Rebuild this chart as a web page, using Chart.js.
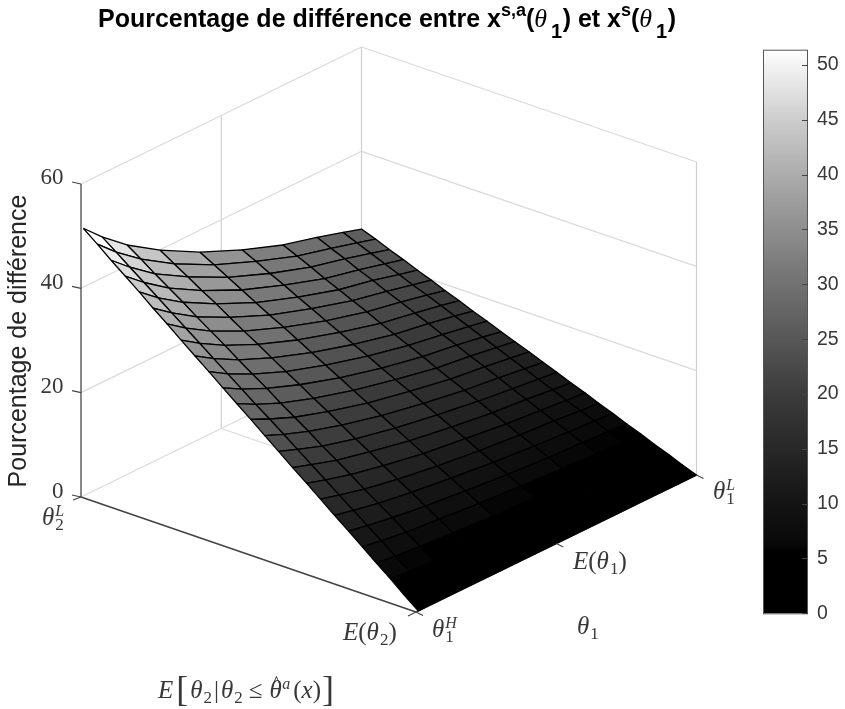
<!DOCTYPE html>
<html lang="fr">
<head>
<meta charset="UTF-8">
<title>Pourcentage de différence</title>
<script src="https://cdn.jsdelivr.net/npm/chart.js"></script>
<style>
  html, body { margin: 0; padding: 0; background: #fff; }
  #surfaceChart { position: absolute; left: 0; top: 0; }
  #colorbarChart { position: absolute; left: 763px; top: 30px; }
</style>
</head>
<body>
<canvas id="surfaceChart" width="845" height="709"></canvas>
<canvas id="colorbarChart" width="82" height="604"></canvas>
<script>
  // axis positions, 0..1 along each horizontal axis
  const theta2Nodes = [0, 0.042, 0.083, 0.125, 0.167, 0.208, 0.25, 0.292, 0.333, 0.375, 0.417, 0.458, 0.5,
    0.542, 0.583, 0.625, 0.667, 0.708, 0.75, 0.792, 0.833, 0.875, 0.917, 0.958, 1];
  const theta1Nodes = [0.008, 0.075, 0.164, 0.282, 0.424, 0.574, 0.72, 0.841, 0.934, 1];

  // pourcentage de difference, one row per theta2 node, one column per theta1 node
  const percentDiff = [
    [51.3, 47.9, 44.0, 39.9, 35.8, 32.3, 29.4, 27.7, 26.2, 25.1],
    [49.2, 45.9, 42.2, 38.2, 34.3, 31.0, 28.2, 26.5, 25.1, 24.1],
    [47.0, 43.9, 40.3, 36.6, 32.8, 29.6, 27.0, 25.4, 24.0, 23.0],
    [44.9, 41.9, 38.5, 34.9, 31.3, 28.3, 25.7, 24.2, 22.9, 22.0],
    [42.8, 39.9, 36.7, 33.3, 29.8, 26.9, 24.5, 23.1, 21.8, 20.9],
    [40.6, 37.9, 34.8, 31.6, 28.3, 25.6, 23.3, 21.9, 20.7, 19.9],
    [38.5, 35.9, 33.0, 29.9, 26.9, 24.2, 22.1, 20.8, 19.7, 18.8],
    [36.3, 33.9, 31.2, 28.3, 25.4, 22.9, 20.8, 19.6, 18.6, 17.8],
    [34.2, 31.9, 29.3, 26.6, 23.9, 21.5, 19.6, 18.5, 17.5, 16.7],
    [32.1, 29.9, 27.5, 24.9, 22.4, 20.2, 18.4, 17.3, 16.4, 15.7],
    [29.9, 27.9, 25.7, 23.3, 20.9, 18.8, 17.2, 16.2, 15.3, 14.6],
    [27.8, 25.9, 23.8, 21.6, 19.4, 17.5, 15.9, 15.0, 14.2, 13.6],
    [25.7, 24.0, 22.0, 20.0, 17.9, 16.2, 14.7, 13.9, 13.1, 12.6],
    [23.5, 22.0, 20.2, 18.3, 16.4, 14.8, 13.5, 12.7, 12.0, 11.5],
    [21.4, 20.0, 18.3, 16.6, 14.9, 13.5, 12.3, 11.5, 10.9, 10.5],
    [19.2, 18.0, 16.5, 15.0, 13.4, 12.1, 11.0, 10.4, 9.8, 9.4],
    [17.1, 16.0, 14.7, 13.3, 11.9, 10.8, 9.8, 9.2, 8.7, 8.4],
    [15.0, 14.0, 12.8, 11.6, 10.4, 9.4, 8.6, 8.1, 7.6, 7.3],
    [12.8, 12.0, 11.0, 10.0, 9.0, 8.1, 7.4, 6.9, 6.6, 6.3],
    [10.7, 10.0, 9.2, 8.3, 7.5, 6.7, 6.1, 5.8, 5.5, 5.2],
    [8.6, 8.0, 7.3, 6.7, 6.0, 5.4, 4.9, 4.6, 4.4, 4.2],
    [6.4, 6.0, 5.5, 5.0, 4.5, 4.0, 3.7, 3.5, 3.3, 3.1],
    [4.3, 4.0, 3.7, 3.3, 3.0, 2.7, 2.5, 2.3, 2.2, 2.1],
    [2.1, 2.0, 1.8, 1.7, 1.5, 1.3, 1.2, 1.2, 1.1, 1.0],
    [0, 0, 0, 0, 0, 0, 0, 0, 0, 0]
  ];

  const zTicks = [0, 20, 40, 60];
  const theta1Ticks = [0, 0.5, 1];
  const theta2Ticks = [0, 1];
  const colorMax = 51.3;

  // colormap
  const cmapValues = [0, 5.6, 6.2, 10, 15, 20, 25, 30, 35, 40, 45, 50, 51.3];
  const cmapGrays = [0, 0, 8, 20, 40, 60, 88, 114, 142, 172, 205, 243, 255];

  // view of the box: orthographic, pixels per unit
  const view = { x0: 81, y0: 497, ux: 335, uy: 115, vx: 280.5, vy: -137, zy: -5.217 };

  function project(u, v, z) {
    return { x: view.x0 + u * view.ux + v * view.vx, y: view.y0 + u * view.uy + v * view.vy + z * view.zy };
  }

  function grayFor(val) {
    let i = 0;
    while (i < cmapValues.length - 2 && val > cmapValues[i + 1]) i++;
    const t = (val - cmapValues[i]) / (cmapValues[i + 1] - cmapValues[i]);
    const g = Math.round(cmapGrays[i] + t * (cmapGrays[i + 1] - cmapGrays[i]));
    return 'rgb(' + g + ',' + g + ',' + g + ')';
  }

  function lineSet(a, b, color, order, width) {
    return { type: 'scatter', data: [a, b], showLine: true, borderColor: color, borderWidth: width || 1.2,
      pointRadius: 0, fill: false, order: order };
  }

  const datasets = [];

  // back walls and floor
  const gridColor = '#dadada';
  zTicks.forEach(function (z) {
    datasets.push(lineSet(project(0, 0, z), project(0, 1, z), gridColor, 900));
    datasets.push(lineSet(project(0, 1, z), project(1, 1, z), gridColor, 900));
  });
  theta1Ticks.forEach(function (v) {
    if (v > 0) datasets.push(lineSet(project(0, v, 0), project(0, v, 60), '#cfcfcf', 900));
    datasets.push(lineSet(project(0, v, 0), project(1, v, 0), gridColor, 900));
  });
  theta2Ticks.forEach(function (u) {
    if (u > 0) datasets.push(lineSet(project(u, 1, 0), project(u, 1, 60), '#cfcfcf', 900));
  });

  // box axes
  datasets.push(lineSet(project(0, 0, 0), project(0, 0, 60), '#555', 800, 1.4));
  datasets.push(lineSet(project(0, 0, 0), project(1, 0, 0), '#444', 800, 1.4));
  datasets.push(lineSet(project(1, 0, 0), project(1, 1, 0), '#444', 800, 1.4));

  // surface, one closed polygon per cell, flat colour from the first corner
  for (let i = 0; i < theta2Nodes.length - 1; i++) {
    for (let j = 0; j < theta1Nodes.length - 1; j++) {
      const a = project(theta2Nodes[i], theta1Nodes[j], percentDiff[i][j]);
      const b = project(theta2Nodes[i], theta1Nodes[j + 1], percentDiff[i][j + 1]);
      const c = project(theta2Nodes[i + 1], theta1Nodes[j + 1], percentDiff[i + 1][j + 1]);
      const d = project(theta2Nodes[i + 1], theta1Nodes[j], percentDiff[i + 1][j]);
      datasets.push({ type: 'scatter', data: [a, b, c, d, a], showLine: true, fill: 'shape',
        backgroundColor: grayFor(percentDiff[i][j]), borderColor: '#000', borderWidth: 1.3,
        borderJoinStyle: 'round', pointRadius: 0, order: 500 - i });
    }
  }

  const sans = "'Liberation Sans', Arial, sans-serif";
  const serif = "'Liberation Serif', serif";
  const textColor = '#383838';

  function drawRuns(ctx, x, y, runs, color) {
    ctx.fillStyle = color || textColor;
    ctx.textAlign = 'left';
    ctx.textBaseline = 'alphabetic';
    runs.forEach(function (r) {
      ctx.font = r[1];
      ctx.fillText(r[0], x, y + (r[2] || 0));
      x += ctx.measureText(r[0]).width + (r[3] || 0);
    });
  }

  const mi = 'italic 25px ' + serif, mr = '25px ' + serif, ms = 'italic 16px ' + serif, mn = '17px ' + serif;
  const big = '36px ' + serif;

  function ctxWidth(t, font) {
    const c = document.getElementById('surfaceChart').getContext('2d');
    c.save(); c.font = font;
    const w = c.measureText(t).width;
    c.restore();
    return w;
  }
  function thetaRuns(sub, sup) {
    return [['θ', mi, 0, 1], [sup, ms, -9, -ctxWidth(sup, ms)], [sub, mn, 5, 0]];
  }

  const labelsPlugin = {
    id: 'surfaceLabels',
    afterDatasetsDraw(chart) {
      const ctx = chart.ctx;
      const sx = chart.scales.x, sy = chart.scales.y;
      function stub(p, dx, dy) {
        ctx.beginPath();
        ctx.moveTo(sx.getPixelForValue(p.x), sy.getPixelForValue(p.y));
        ctx.lineTo(sx.getPixelForValue(p.x) + dx, sy.getPixelForValue(p.y) + dy);
        ctx.stroke();
      }
      ctx.save();
      ctx.strokeStyle = '#444';
      ctx.lineWidth = 1.2;
      zTicks.forEach(function (z) { stub(project(0, 0, z), -9, -2); });
      stub(project(0, 0, 0), -8, 3);
      stub(project(1, 0, 0), -8, 4);
      theta1Ticks.forEach(function (v) { stub(project(1, v, 0), 7, 3.5); });

      // z tick labels
      ctx.fillStyle = textColor;
      ctx.font = '23px ' + serif;
      ctx.textAlign = 'right';
      ctx.textBaseline = 'alphabetic';
      zTicks.forEach(function (z) {
        const p = project(0, 0, z);
        ctx.fillText(String(z), 63.5, sy.getPixelForValue(p.y) + 0.5);
      });

      drawRuns(ctx, 42, 525, thetaRuns('2', 'L'));
      drawRuns(ctx, 343, 640, [['E', mi], ['(', mr], ['θ', mi, 0, 1], ['2', mn, 5], [')', mr]]);
      drawRuns(ctx, 432, 637, thetaRuns('1', 'H'));
      drawRuns(ctx, 573, 569, [['E', mi], ['(', mr], ['θ', mi, 0, 1], ['1', mn, 5], [')', mr]]);
      drawRuns(ctx, 577, 634, [['θ', mi, 0, 1], ['1', mn, 5]]);
      drawRuns(ctx, 713, 499, thetaRuns('1', 'L'));
      drawRuns(ctx, 158, 698, [['E', mi, 0, 3], ['[', big, 3, 2], ['θ', mi, 0, 1], ['2', mn, 5, 2],
        ['|', mr, 0, 2], ['θ', mi, 0, 1], ['2', mn, 5, 6], ['≤', mr, 0, 7], ['θ', mi, 0, -10], ['^', '20px ' + serif, -8, 1],
        ['a', ms, -9, 3], ['(', mr], ['x', mi], [')', mr, 0, 1], [']', big, 3]]);

      // title
      const tb = 'bold 25px ' + sans, ts = 'bold 18px ' + sans, tn = 'bold 20px ' + sans, tt = 'italic 26px ' + serif;
      drawRuns(ctx, 98, 27, [['Pourcentage de différence entre x', tb], ['s,a', ts, -11], ['(', tb], ['θ', tt, 0, 4],
        ['1', tn, 11, 0.5], [')', tb], [' et x', tb], ['s', ts, -11], ['(', tb], ['θ', tt, 0, 4], ['1', tn, 11, 0.5], [')', tb]], '#000');

      // z axis title
      ctx.translate(26, 341);
      ctx.rotate(-Math.PI / 2);
      ctx.font = '25px ' + sans;
      ctx.fillStyle = '#262626';
      ctx.textAlign = 'center';
      ctx.fillText('Pourcentage de différence', 0, 0);
      ctx.restore();
    }
  };

  new Chart(document.getElementById('surfaceChart'), {
    type: 'scatter',
    data: { datasets: datasets },
    options: {
      responsive: false,
      devicePixelRatio: 1,
      animation: false,
      events: [],
      layout: { padding: 0 },
      plugins: { legend: { display: false }, tooltip: { enabled: false } },
      scales: {
        x: { type: 'linear', display: false, min: 0, max: 845 },
        y: { type: 'linear', display: false, min: 0, max: 709, reverse: true }
      }
    },
    plugins: [labelsPlugin]
  });

  // colorbar, a stack of thin gray levels on a real value axis
  const colorSteps = 281;
  const barSets = [];
  for (let i = 0; i < colorSteps; i++) {
    barSets.push({ data: [colorMax / colorSteps], backgroundColor: grayFor((i + 0.5) * colorMax / colorSteps),
      barPercentage: 1, categoryPercentage: 1, borderWidth: 0 });
  }

  const framePlugin = {
    id: 'barFrame',
    afterDraw(chart) {
      const a = chart.chartArea, ctx = chart.ctx, y = chart.scales.y;
      ctx.save();
      ctx.strokeStyle = '#555';
      ctx.lineWidth = 1;
      ctx.strokeRect(a.left + 0.5, a.top - 0.5, a.right - a.left - 1, a.bottom - a.top + 1);
      // inward ticks
      ctx.strokeStyle = '#444';
      y.ticks.forEach(function (t) {
        const py = Math.round(y.getPixelForValue(t.value)) + 0.5;
        ctx.beginPath();
        ctx.moveTo(a.right, py);
        ctx.lineTo(a.right - 6, py);
        ctx.stroke();
      });
      ctx.restore();
    }
  };

  new Chart(document.getElementById('colorbarChart'), {
    type: 'bar',
    data: { labels: ['niveau'], datasets: barSets },
    options: {
      responsive: false,
      devicePixelRatio: 1,
      animation: false,
      events: [],
      layout: { padding: 0 },
      plugins: { legend: { display: false }, tooltip: { enabled: false } },
      scales: {
        x: { stacked: true, display: false },
        y: {
          stacked: true,
          position: 'right',
          min: 0,
          max: colorMax,
          afterFit(scale) { scale.width = 37; },
          border: { display: false },
          grid: { display: false, drawTicks: false },
          ticks: { stepSize: 5, includeBounds: false, padding: 9, color: '#383838', font: { family: sans, size: 19.5 } }
        }
      }
    },
    plugins: [framePlugin]
  });
</script>
</body>
</html>
